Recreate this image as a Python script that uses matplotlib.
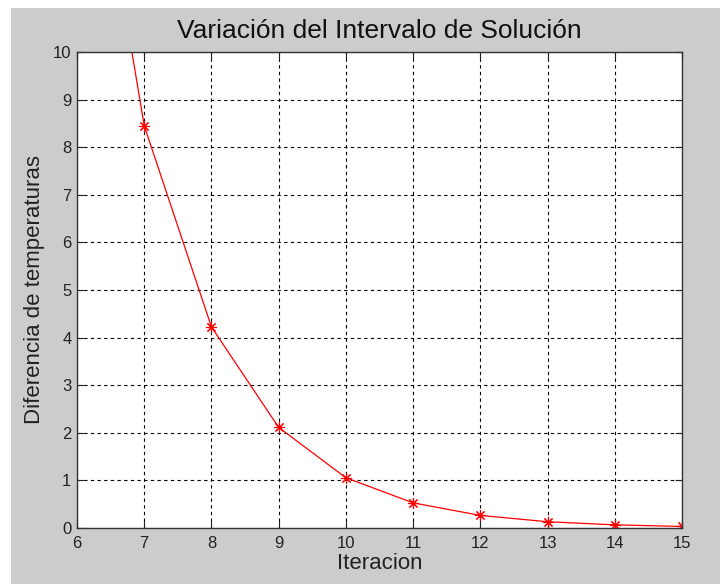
import matplotlib
matplotlib.use("Agg")
import matplotlib.pyplot as plt

# ── Data (bisection interval width per iteration) ──
iteraciones = [6, 7, 8, 9, 10, 11, 12, 13, 14, 15]
diferencia = [16.9, 8.45, 4.225, 2.1125, 1.056, 0.528, 0.264, 0.132, 0.066, 0.033]
xticks = [6, 7, 8, 9, 10, 11, 12, 13, 14, 15]
yticks = [0, 1, 2, 3, 4, 5, 6, 7, 8, 9, 10]

plt.rcParams['font.family'] = ['Liberation Sans', 'DejaVu Sans']

fig = plt.figure(figsize=(7.2, 5.84), dpi=100, facecolor='white')
# gray MATLAB-like figure panel, offset by a thin white border
fig.patches.append(plt.Rectangle((11 / 720, 0), 1, 1 - 8 / 584,
                                 transform=fig.transFigure,
                                 facecolor='#cccccc', edgecolor='none', zorder=-1))

ax = fig.add_axes([77 / 720, 1 - 528 / 584, (682 - 77) / 720, (528 - 52) / 584])
ax.set_facecolor('white')

ax.plot(iteraciones, diferencia, color='red', linewidth=0.9,
        marker=(8, 2, 0), markersize=8, markeredgewidth=0.8, clip_on=True)

ax.set_xlim(6, 15)
ax.set_ylim(0, 10)
ax.set_xticks(xticks)
ax.set_yticks(yticks)
ax.tick_params(direction='in', length=5, width=0.8, top=True, right=True,
               labelsize=12, colors='#222222', pad=4)
ax.tick_params(axis='x', pad=6)
ax.grid(True, color='black', linestyle=(0, (3, 3)), linewidth=0.8)
for sp in ax.spines.values():
    sp.set_color('#333333')
    sp.set_linewidth(1.0)

ax.set_title('Variación del Intervalo de Solución', fontsize=19, color='#111111', pad=10)
ax.set_xlabel('Iteracion', fontsize=16, color='#222222', labelpad=1)
ax.set_ylabel('Diferencia de temperaturas', fontsize=16, color='#222222', labelpad=6)

fig.savefig('out.png', dpi=100, facecolor='white')
